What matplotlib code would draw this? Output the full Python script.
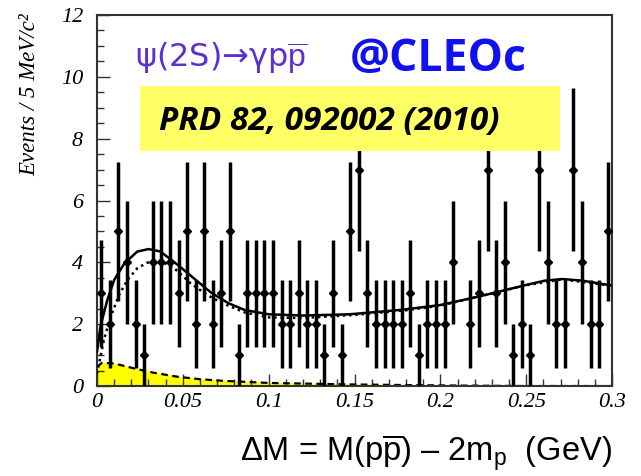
import numpy as np
import matplotlib.pyplot as plt
from matplotlib.patches import Rectangle
from matplotlib.ticker import MultipleLocator

plt.rcParams['mathtext.fontset'] = 'custom'
plt.rcParams['mathtext.rm'] = 'Liberation Sans'
plt.rcParams['mathtext.it'] = 'Liberation Sans:italic'

# event counts in 5 MeV bins, 0 to 0.3 GeV
bin_centers = np.arange(0.0025, 0.3, 0.005)
counts = [3, 2, 5, 4, 2, 1, 4, 4, 4, 3,
          5, 2, 5, 2, 3, 5, 1, 3, 3, 3,
          3, 2, 2, 3, 2, 2, 1, 3, 1, 5,
          7, 3, 2, 2, 2, 2, 3, 1, 2, 2,
          2, 4, 0, 2, 3, 7, 3, 4, 1, 2,
          1, 7, 4, 2, 2, 7, 4, 2, 2, 5]

# total fit (solid)
fit_x = [0.0, 0.002, 0.006, 0.010, 0.016, 0.0235, 0.030, 0.037, 0.047, 0.0565,
         0.0665, 0.0765, 0.086, 0.100, 0.120, 0.147, 0.1765, 0.200, 0.222,
         0.2325, 0.250, 0.261, 0.271, 0.2825, 0.300]
fit_y = [1.1, 1.92, 2.78, 3.43, 3.97, 4.35, 4.43, 4.35, 3.92, 3.48,
         3.02, 2.68, 2.46, 2.32, 2.28, 2.32, 2.46, 2.62, 2.89,
         3.03, 3.27, 3.41, 3.46, 3.41, 3.25]

# signal + phase space (dotted)
dot_x = [0.0, 0.004, 0.008, 0.0128, 0.0177, 0.0235, 0.0293, 0.037, 0.045, 0.0546,
         0.0643, 0.073, 0.086, 0.100, 0.120, 0.150, 0.180, 0.200, 0.250, 0.271, 0.300]
dot_y = [0.4, 1.49, 2.24, 2.94, 3.43, 3.81, 3.99, 4.05, 3.81, 3.32,
         2.94, 2.68, 2.38, 2.22, 2.2, 2.3, 2.45, 2.6, 3.26, 3.45, 3.24]

# background (dashed, yellow fill)
bkg_x = [0.0, 0.003, 0.010, 0.0216, 0.033, 0.047, 0.060, 0.073, 0.100, 0.150, 0.200, 0.250, 0.300]
bkg_y = [0.63, 0.75, 0.73, 0.57, 0.43, 0.30, 0.22, 0.17, 0.10, 0.05, 0.02, 0.0, 0.0]

fig = plt.figure(figsize=(6.41, 4.76), dpi=100)
ax = fig.add_axes([0.1513, 0.189, 0.8035, 0.7795])

ax.fill_between(bkg_x, bkg_y, color='#ffff00', zorder=1)
ax.plot(bkg_x, bkg_y, color='black', lw=1.6, ls=(0, (3, 2)), zorder=2)
ax.plot(dot_x, dot_y, color='black', lw=1.8, ls=(0, (1, 1.5)), zorder=3)
ax.plot(fit_x, fit_y, color='black', lw=1.8, zorder=3)

counts = np.array(counts)
mask = counts > 0
ax.errorbar(bin_centers[mask], counts[mask], yerr=np.sqrt(counts[mask]),
            fmt='D', color='black', ms=4.5, elinewidth=2.5, capsize=0, zorder=4)

ax.set_xlim(0, 0.3)
ax.set_ylim(0, 12)
ax.xaxis.set_minor_locator(MultipleLocator(0.01))
ax.yaxis.set_minor_locator(MultipleLocator(0.5))
ax.tick_params(which='both', direction='in', top=False, right=False, color='#333333')
ax.tick_params(which='major', length=9, width=1)
ax.tick_params(which='minor', length=5, width=1)
for s in ax.spines.values():
    s.set_linewidth(1.5)
    s.set_color('#333333')

ax.set_xticks([0, 0.05, 0.1, 0.15, 0.2, 0.25, 0.3])
ax.set_xticklabels(['0', '0.05', '0.1', '0.15', '0.2', '0.25', '0.3'],
                   family='Liberation Serif', style='italic', fontsize=16)
ax.set_yticks([0, 2, 4, 6, 8, 10, 12])
ax.set_yticklabels(['0', '2', '4', '6', '8', '10', '12'],
                   family='Liberation Serif', style='italic', fontsize=16)
ax.tick_params(axis='x', pad=5)
ax.tick_params(axis='y', pad=10)

fig.text(0.047, 0.972, 'Events / 5 MeV/c²', rotation=90, ha='center', va='top',
         family='Liberation Serif', style='italic', fontsize=16.5)
fig.text(0.955, 0.032, r'ΔM = M(p$\overline{\mathrm{p}}$) – 2m$_\mathrm{p}$  (GeV)',
         ha='right', va='baseline', family='Liberation Sans', fontsize=23.5)

fig.text(0.21, 0.857, 'ψ(2S)→γp' + r'$\overline{\mathrm{p}}$', color='#5b2fd0',
         family='DejaVu Sans', fontsize=23, va='baseline')
fig.text(0.545, 0.851, '@CLEOc', color='#1010f0', family='Open Sans',
         fontweight='bold', fontsize=32, va='baseline')

fig.patches.append(Rectangle((140 / 641, 1 - 151 / 476), 420 / 641, 65 / 476,
                             transform=fig.transFigure, facecolor='#ffff66',
                             edgecolor='none', zorder=5))
fig.text(0.248, 0.745, 'PRD 82, 092002 (2010)', family='Open Sans', style='italic',
         fontweight='bold', fontsize=24, color='black', va='center', zorder=6)

fig.savefig('out.png', dpi=100)
